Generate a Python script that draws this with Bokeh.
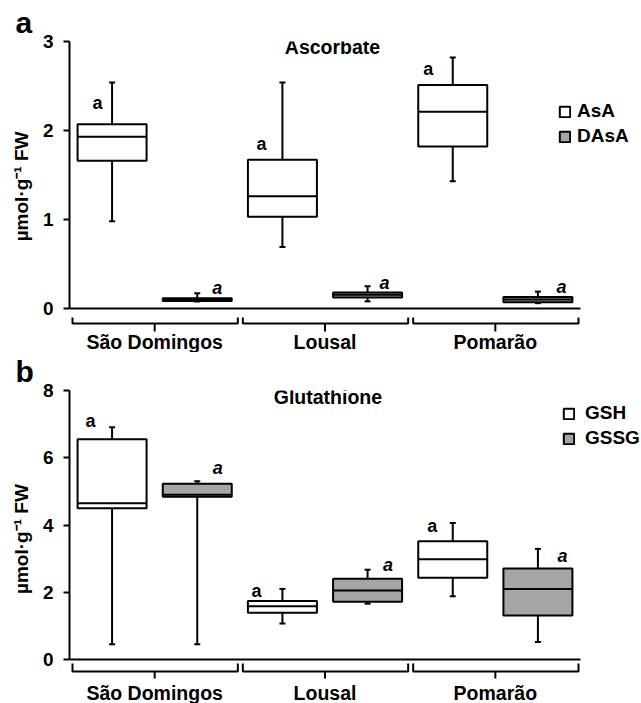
from bokeh.plotting import figure
from bokeh.models import Range1d, FixedTicker, Legend, LegendItem, Label, Title
from bokeh.layouts import column
from bokeh.embed import file_html
from bokeh.resources import INLINE
from bokeh.core.properties import value

FONT = "Liberation Sans"

sites = ["São Domingos", "Lousal", "Pomarão"]

# ---- panel a: Ascorbate ----
asa_low = [0.98, 0.69, 1.43]
asa_q1 = [1.66, 1.03, 1.82]
asa_med = [1.93, 1.26, 2.21]
asa_q3 = [2.07, 1.67, 2.51]
asa_high = [2.54, 2.54, 2.82]

dasa_low = [0.08, 0.08, 0.06]
dasa_q1 = [0.085, 0.125, 0.07]
dasa_med = [0.10, 0.155, 0.10]
dasa_q3 = [0.115, 0.18, 0.13]
dasa_high = [0.17, 0.25, 0.19]

asa_sig = ["a", "a", "a"]
asa_sig_y = [2.31, 1.85, 2.69]
dasa_sig = ["a", "a", "a"]
dasa_sig_y = [0.225, 0.29, 0.245]

# ---- panel b: Glutathione ----
gsh_low = [0.45, 1.07, 1.88]
gsh_q1 = [4.50, 1.39, 2.43]
gsh_med = [4.65, 1.58, 2.98]
gsh_q3 = [6.55, 1.74, 3.52]
gsh_high = [6.91, 2.10, 4.06]

gssg_low = [0.45, 1.66, 0.52]
gssg_q1 = [4.84, 1.72, 1.31]
gssg_med = [4.90, 2.05, 2.10]
gssg_q3 = [5.23, 2.40, 2.71]
gssg_high = [5.30, 2.67, 3.29]

gsh_sig = ["a", "a", "a"]
gsh_sig_y = [7.08, 2.05, 3.98]
gssg_sig = ["a", "a", "a"]
gssg_sig_y = [5.71, 2.80, 3.09]

ticks_a = [0, 1, 2, 3]
ticks_b = [0, 2, 4, 6, 8]

# ---- layout constants (pixels) ----
W = 641
LEFT = 69
PX_X = 511 / 3.0
BOX_W = 69 / PX_X
OFF = 0.25
CAP = 3 / PX_X
WHITE = "#ffffff"
GRAY = "#a6a6a6"
LW = 2
NB = "\u00a0"


def make_panel(height, top, px_y, ymax, ticks, s1, s2, labels_leg, title, title_xy,
               letter, letter_standoff, letter_valign, ylabel_pad, bracket_px,
               legend_loc, legend_standoff, legend_spacing):
    frame_h = height - top
    y_end = ymax
    y_start = ymax - frame_h / px_y
    x_end = (W - LEFT) / PX_X
    p = figure(width=W, height=height, output_backend="svg", toolbar_location=None,
               x_axis_location=None, title=None,
               x_range=Range1d(0, x_end), y_range=Range1d(y_start, y_end),
               min_border_left=LEFT, min_border_right=0, min_border_top=top,
               min_border_bottom=0)
    p.outline_line_color = None
    p.grid.visible = False
    p.background_fill_color = None
    p.border_fill_color = None

    p.add_layout(Title(text=letter, align="left", offset=-54, standoff=letter_standoff,
                       vertical_align=letter_valign,
                       text_font=FONT, text_font_style="bold",
                       text_font_size="30px", text_color="black"), "above")

    ax = p.yaxis[0]
    ax.bounds = (0, ymax)
    ax.ticker = FixedTicker(ticks=ticks)
    ax.axis_line_width = LW
    ax.axis_line_color = "black"
    ax.major_tick_line_width = LW
    ax.major_tick_line_color = "black"
    ax.major_tick_out = 6
    ax.major_tick_in = 0
    ax.minor_tick_line_color = None
    ax.major_label_text_font = FONT
    ax.major_label_text_font_style = "bold"
    ax.major_label_text_font_size = "19px"
    ax.major_label_text_color = "black"
    ax.major_label_standoff = 10
    ax.axis_label = NB * ylabel_pad + "µmol·g⁻¹ FW"
    ax.axis_label_text_font = FONT
    ax.axis_label_text_font_style = "bold"
    ax.axis_label_text_font_size = "19px"
    ax.axis_label_text_color = "black"
    ax.axis_label_standoff = 8

    # x axis line at y = 0
    p.segment(x0=[0], y0=[0], x1=[3], y1=[0], line_color="black", line_width=LW)

    renderers = []
    for k, (stats, fill) in enumerate([(s1, WHITE), (s2, GRAY)]):
        low, q1, med, q3, high = stats
        cx = [i + (OFF if k == 0 else 1 - OFF) for i in range(len(sites))]
        p.segment(x0=cx, y0=q3, x1=cx, y1=high, line_color="black", line_width=LW)
        p.segment(x0=cx, y0=q1, x1=cx, y1=low, line_color="black", line_width=LW)
        p.segment(x0=[c - CAP for c in cx], y0=high, x1=[c + CAP for c in cx], y1=high,
                  line_color="black", line_width=LW)
        p.segment(x0=[c - CAP for c in cx], y0=low, x1=[c + CAP for c in cx], y1=low,
                  line_color="black", line_width=LW)
        r = p.vbar(x=cx, width=BOX_W, top=q3, bottom=q1, fill_color=fill,
                   line_color="black", line_width=LW)
        renderers.append(r)
        p.segment(x0=[c - BOX_W / 2 for c in cx], y0=med, x1=[c + BOX_W / 2 for c in cx],
                  y1=med, line_color="black", line_width=LW)

    # brackets + site labels
    top_o, hor_o, tick_o, lab_o = [v / px_y for v in bracket_px]
    xs, ys = [], []
    for i in range(len(sites)):
        l = i + 3 / PX_X
        r_ = i + 1 - 2 / PX_X
        c = i + 0.5
        xs.append([l, l, r_, r_])
        ys.append([-top_o, -hor_o, -hor_o, -top_o])
        xs.append([c, c])
        ys.append([-hor_o, -tick_o])
    p.multi_line(xs=xs, ys=ys, line_color="black", line_width=LW)
    p.text(x=[i + 0.5 for i in range(len(sites))], y=[-lab_o] * len(sites), text=sites,
           text_font=value(FONT), text_font_style="bold", text_font_size="19.5px",
           text_align="center", text_baseline="middle", text_color="black")

    leg = Legend(items=[LegendItem(label=labels_leg[0], renderers=[renderers[0]]),
                        LegendItem(label=labels_leg[1], renderers=[renderers[1]])],
                 location=legend_loc, margin=0, padding=0, spacing=legend_spacing,
                 glyph_width=13, glyph_height=13, label_standoff=legend_standoff,
                 label_text_font=FONT, label_text_font_style="bold",
                 label_text_font_size="19px", label_text_color="black",
                 border_line_color=None, background_fill_alpha=0)
    p.add_layout(leg)

    p.add_layout(Label(x=title_xy[0], y=title_xy[1], text=title, text_font=FONT,
                       text_font_style="bold", text_font_size="19.5px",
                       text_align="center", text_baseline="middle", text_color="black"))
    return p


def add_sig(p, sig, sig_y, first, px_off):
    cx = [i + (OFF if first else 1 - OFF) + px_off[i] / PX_X for i in range(len(sites))]
    p.text(x=cx, y=sig_y, text=sig, text_font=value(FONT),
           text_font_style="bold" if first else "bold italic", text_font_size="18px",
           text_align="center", text_baseline="middle", text_color="black")


# panel a: page y 0..352 ; frame top at 41 (y=3) ; 89 px / unit
pa = make_panel(height=352, top=41, px_y=89.0, ymax=3, ticks=ticks_a,
                s1=(asa_low, asa_q1, asa_med, asa_q3, asa_high),
                s2=(dasa_low, dasa_q1, dasa_med, dasa_q3, dasa_high),
                labels_leg=["AsA", "DAsA"], title="Ascorbate",
                title_xy=(1.544, 2.933), letter="a", letter_standoff=5,
                letter_valign="bottom", ylabel_pad=4,
                bracket_px=(9, 15, 23, 33), legend_loc=(489, 205),
                legend_standoff=6, legend_spacing=3)
add_sig(pa, asa_sig, asa_sig_y, True, [-14.5, -21, -24.5])
add_sig(pa, dasa_sig, dasa_sig_y, False, [20, 17, 23.5])

# panel b: page y 352..703 ; frame top at 390 (y=8) ; 33.625 px / unit
pb = make_panel(height=351, top=38, px_y=33.625, ymax=8, ticks=ticks_b,
                s1=(gsh_low, gsh_q1, gsh_med, gsh_q3, gsh_high),
                s2=(gssg_low, gssg_q1, gssg_med, gssg_q3, gssg_high),
                labels_leg=["GSH", "GSSG"], title="Glutathione",
                title_xy=(1.517, 7.792), letter="b", letter_standoff=2,
                letter_valign="top", ylabel_pad=3,
                bracket_px=(4, 12, 19, 33), legend_loc=(493, 254),
                legend_standoff=10, legend_spacing=3)
add_sig(pb, gsh_sig, gsh_sig_y, True, [-21.5, -26, -20.5])
add_sig(pb, gssg_sig, gssg_sig_y, False, [20.5, 20.5, 24.5])

layout = column(pa, pb, spacing=0)
open("out.html", "w").write(file_html(layout, INLINE))
